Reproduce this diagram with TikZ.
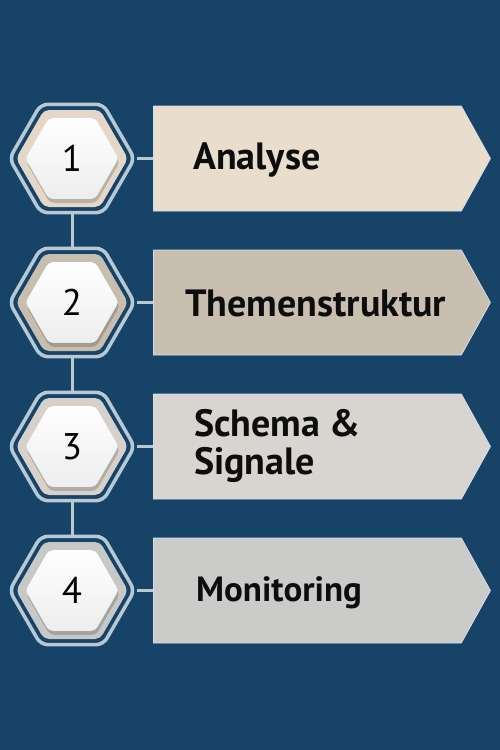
\documentclass[tikz,border=0pt]{standalone}
\usepackage{fontspec}
\setmainfont{PT Sans}
\usetikzlibrary{shapes.geometric,shapes.symbols,shadows}
\definecolor{bg}{RGB}{23,67,105}
\definecolor{ring}{RGB}{183,201,211}
\definecolor{c1}{RGB}{233,221,206}
\definecolor{c2}{RGB}{201,191,176}
\definecolor{c3}{RGB}{216,212,207}
\definecolor{c4}{RGB}{203,203,202}
\definecolor{h1}{RGB}{228,215,200}
\definecolor{h2}{RGB}{200,190,175}
\definecolor{h3}{RGB}{214,209,202}
\definecolor{h4}{RGB}{200,200,199}
\begin{document}
\begin{tikzpicture}[x=1pt,y=-1pt,
  outerhex/.style={regular polygon, regular polygon sides=6, minimum size=125pt, inner sep=0pt, draw=ring, line width=3.5pt, rounded corners=7pt},
  midhex/.style={regular polygon, regular polygon sides=6, minimum size=112pt, inner sep=0pt, rounded corners=5pt},
  innerhex/.style={regular polygon, regular polygon sides=6, minimum size=93pt, inner sep=0pt, rounded corners=4pt,
     top color=white, bottom color=black!7,
     drop shadow={shadow xshift=1pt, shadow yshift=-4pt, opacity=0.18, fill=black},
     font=\fontsize{37}{37}\selectfont, text=black},
  arrowbox/.style={signal, signal to=east, signal from=nowhere, signal pointer angle=122, minimum width=337pt, minimum height=105pt, inner sep=0pt, draw=ring!60!white, line width=0.8pt, anchor=west},
  lbl/.style={font=\bfseries\fontsize{38}{38}\selectfont, text=black!95, inner sep=0pt},
  conn/.style={draw=ring, line width=3pt}
]
\fill[bg] (0,0) rectangle (500,750);
\useasboundingbox (0,0) rectangle (500,750);

% row 1
\node[arrowbox, fill=c1] (box1) at (153,158.5) {};
\node[outerhex] (hex1) at (72,158.5) {};
\node[midhex, fill=h1] (mid1) at (72,158.5) {};
\node[innerhex] (num1) at (72,158.5) {1};
\node[lbl, anchor=base west] (t1) at (193,169) {Analyse};

% row 2
\node[arrowbox, fill=c2] (box2) at (153,302.5) {};
\node[outerhex] (hex2) at (72,302.5) {};
\node[midhex, fill=h2] (mid2) at (72,302.5) {};
\node[innerhex] (num2) at (72,302.5) {2};
\node[lbl, anchor=base west] (t2) at (185,316) {Themenstruktur};

% row 3
\node[arrowbox, fill=c3] (box3) at (153,446.5) {};
\node[outerhex] (hex3) at (72,446.5) {};
\node[midhex, fill=h3] (mid3) at (72,446.5) {};
\node[innerhex] (num3) at (72,446.5) {3};
\node[lbl, anchor=west, align=left] (t3) at (194,446) {Schema \&\\Signale};

% row 4
\node[arrowbox, fill=c4] (box4) at (153,590.5) {};
\node[outerhex] (hex4) at (72,590.5) {};
\node[midhex, fill=h4] (mid4) at (72,590.5) {};
\node[innerhex] (num4) at (72,590.5) {4};
\node[lbl, anchor=base west, font=\bfseries\fontsize{35}{35}\selectfont] (t4) at (196,601) {Monitoring};

% connectors
\draw[conn] (hex1.east) -- (box1.west);
\draw[conn] (hex2.east) -- (box2.west);
\draw[conn] (hex3.east) -- (box3.west);
\draw[conn] (hex4.east) -- (box4.west);
\draw[conn] (hex1.south) -- (hex2.north);
\draw[conn] (hex2.south) -- (hex3.north);
\draw[conn] (hex3.south) -- (hex4.north);
\end{tikzpicture}
\end{document}
